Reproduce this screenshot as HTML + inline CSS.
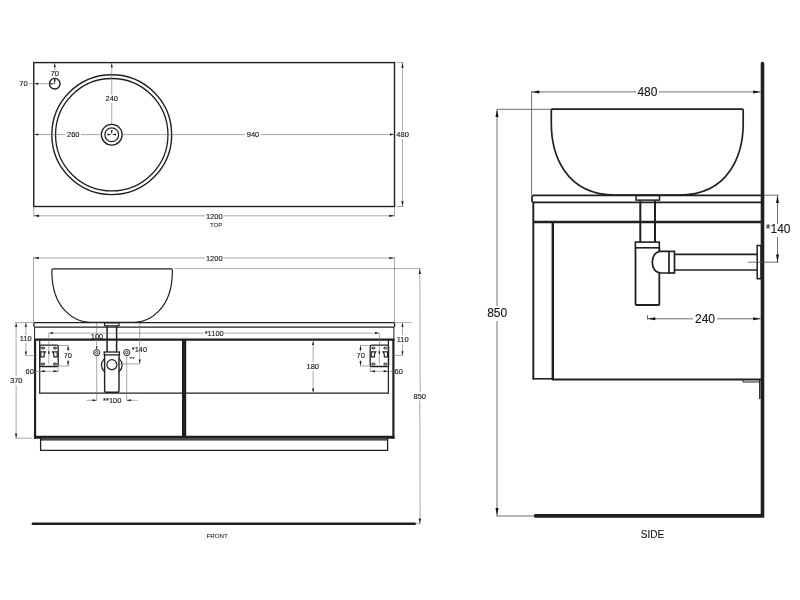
<!DOCTYPE html>
<html lang="en"><head><meta charset="utf-8"><title>Vanity unit technical drawing</title>
<style>
html,body{margin:0;padding:0;background:#fff;}
body{width:800px;height:600px;overflow:hidden;}
svg{display:block;filter:grayscale(1);font-family:"Liberation Sans",Arial,sans-serif;}
</style></head><body>
<svg width="800" height="600" viewBox="0 0 800 600">
<rect width="800" height="600" fill="#ffffff"/>
<g opacity="0.999">
<rect x="33.75" y="62.6" width="360.75" height="143.9" rx="0" fill="none" stroke="#231f20" stroke-width="1.4"/>
<circle cx="111.75" cy="134.7" r="59.9" fill="none" stroke="#231f20" stroke-width="1.4"/>
<circle cx="111.75" cy="134.7" r="56.2" fill="none" stroke="#231f20" stroke-width="1.3"/>
<circle cx="111.75" cy="134.7" r="10.4" fill="none" stroke="#231f20" stroke-width="1.3"/>
<circle cx="111.75" cy="134.7" r="6.9" fill="none" stroke="#231f20" stroke-width="1.2"/>
<circle cx="54.75" cy="83.7" r="5.3" fill="none" stroke="#231f20" stroke-width="1.4"/>
<line x1="54.75" y1="63" x2="54.75" y2="72.5" stroke="#707070" stroke-width="0.6" />
<line x1="54.75" y1="77" x2="54.75" y2="84" stroke="#707070" stroke-width="0.6" />
<polygon points="54.75,63.20 53.75,67.20 55.75,67.20" fill="#111"/>
<polygon points="54.75,83.70 53.85,79.20 55.65,79.20" fill="#111"/>
<polygon points="54.75,83.70 50.25,82.80 50.25,84.60" fill="#111"/>
<text x="54.75" y="75.7" font-size="7.5" text-anchor="middle" fill="#151515" stroke="#151515" stroke-width="0.12">70</text>
<line x1="28.75" y1="83.7" x2="54.75" y2="83.7" stroke="#707070" stroke-width="0.6" />
<polygon points="34.30,83.70 38.30,82.70 38.30,84.70" fill="#111"/>
<text x="27.6" y="86.2" font-size="7.5" text-anchor="end" fill="#151515" stroke="#151515" stroke-width="0.12">70</text>
<line x1="111.75" y1="63" x2="111.75" y2="95" stroke="#707070" stroke-width="0.6" />
<line x1="111.75" y1="103" x2="111.75" y2="124" stroke="#707070" stroke-width="0.6" />
<polygon points="111.75,63.20 110.75,67.20 112.75,67.20" fill="#111"/>
<polygon points="111.75,134.30 110.75,130.30 112.75,130.30" fill="#111"/>
<text x="111.75" y="101.3" font-size="7.5" text-anchor="middle" fill="#151515" stroke="#151515" stroke-width="0.12">240</text>
<line x1="34" y1="134.6" x2="65.5" y2="134.6" stroke="#707070" stroke-width="0.6" />
<line x1="81" y1="134.6" x2="101" y2="134.6" stroke="#707070" stroke-width="0.6" />
<line x1="122.5" y1="134.6" x2="245" y2="134.6" stroke="#707070" stroke-width="0.6" />
<line x1="261" y1="134.6" x2="394" y2="134.6" stroke="#707070" stroke-width="0.6" />
<polygon points="34.30,134.60 38.30,133.60 38.30,135.60" fill="#111"/>
<polygon points="111.50,134.60 107.50,133.60 107.50,135.60" fill="#111"/>
<polygon points="112.00,134.60 116.00,133.60 116.00,135.60" fill="#111"/>
<polygon points="394.00,134.60 390.00,133.60 390.00,135.60" fill="#111"/>
<text x="73.25" y="137.4" font-size="7.5" text-anchor="middle" fill="#151515" stroke="#151515" stroke-width="0.12">260</text>
<text x="253" y="137.4" font-size="7.5" text-anchor="middle" fill="#151515" stroke="#151515" stroke-width="0.12">940</text>
<line x1="396.5" y1="62.6" x2="403.5" y2="62.6" stroke="#707070" stroke-width="0.6" />
<line x1="396.5" y1="206.5" x2="403.5" y2="206.5" stroke="#707070" stroke-width="0.6" />
<line x1="402.5" y1="62.6" x2="402.5" y2="131" stroke="#707070" stroke-width="0.6" />
<line x1="402.5" y1="139" x2="402.5" y2="206.5" stroke="#707070" stroke-width="0.6" />
<polygon points="402.50,62.80 401.40,67.80 403.60,67.80" fill="#111"/>
<polygon points="402.50,206.30 401.40,201.30 403.60,201.30" fill="#111"/>
<text x="402.6" y="137.3" font-size="7.5" text-anchor="middle" fill="#151515" stroke="#151515" stroke-width="0.12">480</text>
<line x1="33.75" y1="207" x2="33.75" y2="216.7" stroke="#707070" stroke-width="0.6" />
<line x1="394.5" y1="207" x2="394.5" y2="216.7" stroke="#707070" stroke-width="0.6" />
<line x1="33.75" y1="215.8" x2="205" y2="215.8" stroke="#707070" stroke-width="0.6" />
<line x1="223.5" y1="215.8" x2="394.5" y2="215.8" stroke="#707070" stroke-width="0.6" />
<polygon points="34.00,215.80 39.00,214.70 39.00,216.90" fill="#111"/>
<polygon points="394.30,215.80 389.30,214.70 389.30,216.90" fill="#111"/>
<text x="214.3" y="218.5" font-size="7.5" text-anchor="middle" fill="#151515" stroke="#151515" stroke-width="0.12">1200</text>
<text x="216.2" y="227.3" font-size="6.1" text-anchor="middle" fill="#151515" stroke="#151515" stroke-width="0.05">TOP</text>
<line x1="33.5" y1="257" x2="33.5" y2="322" stroke="#707070" stroke-width="0.6" />
<line x1="394.5" y1="257" x2="394.5" y2="322" stroke="#707070" stroke-width="0.6" />
<line x1="33.5" y1="258" x2="205" y2="258" stroke="#707070" stroke-width="0.6" />
<line x1="223.5" y1="258" x2="394.5" y2="258" stroke="#707070" stroke-width="0.6" />
<polygon points="33.80,258.00 38.80,256.90 38.80,259.10" fill="#111"/>
<polygon points="394.30,258.00 389.30,256.90 389.30,259.10" fill="#111"/>
<text x="214.3" y="260.5" font-size="7.5" text-anchor="middle" fill="#151515" stroke="#151515" stroke-width="0.12">1200</text>
<line x1="174.5" y1="268.6" x2="421" y2="268.6" stroke="#707070" stroke-width="0.6" />
<path d="M53,268.9 H171.2 Q172.3,268.9 172.3,270 V272 C172.3,309.9 148.2,322.3 134.2,322.3 H90 C76,322.3 51.9,309.9 51.9,272 V270 Q51.9,268.9 53,268.9 Z" fill="none" stroke="#231f20" stroke-width="1.2" />
<rect x="33.9" y="322.6" width="360.7" height="4.6" rx="1.5" fill="none" stroke="#231f20" stroke-width="1.3"/>
<path d="M34.6,327.2 V340" fill="none" stroke="#231f20" stroke-width="1.0" />
<path d="M393.9,327.2 V340" fill="none" stroke="#231f20" stroke-width="1.0" />
<rect x="104.5" y="322.8" width="14.5" height="3" rx="0" fill="none" stroke="#231f20" stroke-width="1.2"/>
<line x1="34" y1="339.6" x2="394.4" y2="339.6" stroke="#231f20" stroke-width="2.1" />
<line x1="35.05" y1="339.2" x2="35.05" y2="438.7" stroke="#231f20" stroke-width="2.2" />
<line x1="393.4" y1="339.2" x2="393.4" y2="438.7" stroke="#231f20" stroke-width="2.2" />
<line x1="34" y1="437.25" x2="394.5" y2="437.25" stroke="#231f20" stroke-width="3" />
<rect x="40.3" y="438.7" width="347.5" height="1.9" fill="#4a4646"/>
<line x1="184.1" y1="340" x2="184.1" y2="438" stroke="#231f20" stroke-width="4.2" />
<line x1="39.7" y1="340" x2="39.7" y2="393.2" stroke="#231f20" stroke-width="1.2" />
<line x1="388.4" y1="340" x2="388.4" y2="393.2" stroke="#231f20" stroke-width="1.2" />
<line x1="39.2" y1="393.1" x2="388.9" y2="393.1" stroke="#231f20" stroke-width="1.4" />
<path d="M40.6,438 V450.3 H387.6 V438" fill="none" stroke="#231f20" stroke-width="1.3" />
<line x1="107.1" y1="326" x2="107.1" y2="352" stroke="#231f20" stroke-width="1.5" />
<line x1="116.6" y1="326" x2="116.6" y2="352" stroke="#231f20" stroke-width="1.5" />
<rect x="104.2" y="352" width="15.2" height="2.9" rx="0" fill="none" stroke="#231f20" stroke-width="1.3"/>
<path d="M104.6,354.9 V390.8 Q104.6,392.3 106.1,392.3 H117.5 Q119,392.3 119,390.8 V354.9" fill="none" stroke="#231f20" stroke-width="1.4" />
<path d="M104.6,358.3 Q98.2,365 104.6,371.8" fill="none" stroke="#231f20" stroke-width="1.2" />
<path d="M119,358.3 Q125.4,365 119,371.8" fill="none" stroke="#231f20" stroke-width="1.2" />
<circle cx="111.9" cy="364.7" r="5.0" fill="none" stroke="#231f20" stroke-width="1.2"/>
<circle cx="96.7" cy="352.6" r="3.1" fill="none" stroke="#231f20" stroke-width="1.0"/>
<circle cx="96.7" cy="352.6" r="1.15" fill="none" stroke="#231f20" stroke-width="0.8"/>
<line x1="93.7" y1="352.6" x2="95.2" y2="352.6" stroke="#707070" stroke-width="0.5" />
<line x1="98.2" y1="352.6" x2="99.7" y2="352.6" stroke="#707070" stroke-width="0.5" />
<line x1="96.7" y1="349.6" x2="96.7" y2="351.1" stroke="#707070" stroke-width="0.5" />
<line x1="96.7" y1="354.1" x2="96.7" y2="355.6" stroke="#707070" stroke-width="0.5" />
<circle cx="126.7" cy="352.6" r="3.1" fill="none" stroke="#231f20" stroke-width="1.0"/>
<circle cx="126.7" cy="352.6" r="1.15" fill="none" stroke="#231f20" stroke-width="0.8"/>
<line x1="123.7" y1="352.6" x2="125.2" y2="352.6" stroke="#707070" stroke-width="0.5" />
<line x1="128.2" y1="352.6" x2="129.7" y2="352.6" stroke="#707070" stroke-width="0.5" />
<line x1="126.7" y1="349.6" x2="126.7" y2="351.1" stroke="#707070" stroke-width="0.5" />
<line x1="126.7" y1="354.1" x2="126.7" y2="355.6" stroke="#707070" stroke-width="0.5" />
<line x1="96.7" y1="323" x2="96.7" y2="349.9" stroke="#707070" stroke-width="0.6" />
<line x1="96.7" y1="355.7" x2="96.7" y2="400.5" stroke="#707070" stroke-width="0.6" />
<line x1="126.7" y1="355.7" x2="126.7" y2="400.5" stroke="#707070" stroke-width="0.6" />
<line x1="139.7" y1="323" x2="139.7" y2="363.8" stroke="#707070" stroke-width="0.6" />
<line x1="114.5" y1="363.9" x2="140" y2="363.9" stroke="#707070" stroke-width="0.6" />
<polygon points="139.70,363.60 138.70,359.60 140.70,359.60" fill="#111"/>
<polygon points="96.70,349.60 95.90,346.60 97.50,346.60" fill="#111"/>
<text x="97" y="338.5" font-size="7.5" text-anchor="middle" fill="#151515" stroke="#151515" stroke-width="0.12">100</text>
<text x="139.5" y="351.5" font-size="7.5" text-anchor="middle" fill="#151515" stroke="#151515" stroke-width="0.12">*140</text>
<text x="132.2" y="361" font-size="6" text-anchor="middle" fill="#151515" stroke="#151515" stroke-width="0.05">**</text>
<line x1="86.5" y1="400.3" x2="96.7" y2="400.3" stroke="#707070" stroke-width="0.6" />
<line x1="126.7" y1="400.3" x2="137.5" y2="400.3" stroke="#707070" stroke-width="0.6" />
<polygon points="96.50,400.30 92.50,399.30 92.50,401.30" fill="#111"/>
<polygon points="126.90,400.30 130.90,399.30 130.90,401.30" fill="#111"/>
<text x="112.3" y="402.6" font-size="7.5" text-anchor="middle" fill="#151515" stroke="#151515" stroke-width="0.12">**100</text>
<rect x="39.8" y="345.1" width="18.4" height="21.4" rx="1.6" fill="none" stroke="#231f20" stroke-width="1.3"/>
<ellipse cx="43.0" cy="348.1" rx="1.8" ry="0.9" fill="none" stroke="#231f20" stroke-width="1"/>
<ellipse cx="43.0" cy="364" rx="1.8" ry="0.9" fill="none" stroke="#231f20" stroke-width="1"/>
<ellipse cx="55.0" cy="348.1" rx="1.8" ry="0.9" fill="none" stroke="#231f20" stroke-width="1"/>
<ellipse cx="55.0" cy="364" rx="1.8" ry="0.9" fill="none" stroke="#231f20" stroke-width="1"/>
<path d="M40.8,351.8 H45.4 L44.099999999999994,354.2 V356.8 H40.8 Z M57.199999999999996,351.8 H52.599999999999994 L53.9,354.2 V356.8 H57.199999999999996 Z" fill="none" stroke="#231f20" stroke-width="1.15" />
<rect x="370.2" y="345.1" width="18.4" height="21.4" rx="1.6" fill="none" stroke="#231f20" stroke-width="1.3"/>
<ellipse cx="373.4" cy="348.1" rx="1.8" ry="0.9" fill="none" stroke="#231f20" stroke-width="1"/>
<ellipse cx="373.4" cy="364" rx="1.8" ry="0.9" fill="none" stroke="#231f20" stroke-width="1"/>
<ellipse cx="385.4" cy="348.1" rx="1.8" ry="0.9" fill="none" stroke="#231f20" stroke-width="1"/>
<ellipse cx="385.4" cy="364" rx="1.8" ry="0.9" fill="none" stroke="#231f20" stroke-width="1"/>
<path d="M371.2,351.8 H375.8 L374.5,354.2 V356.8 H371.2 Z M387.59999999999997,351.8 H383.0 L384.3,354.2 V356.8 H387.59999999999997 Z" fill="none" stroke="#231f20" stroke-width="1.15" />
<line x1="48.8" y1="333.1" x2="204" y2="333.1" stroke="#707070" stroke-width="0.6" />
<line x1="224.5" y1="333.1" x2="379.3" y2="333.1" stroke="#707070" stroke-width="0.6" />
<polygon points="49.00,333.10 53.00,332.10 53.00,334.10" fill="#111"/>
<polygon points="379.00,333.10 375.00,332.10 375.00,334.10" fill="#111"/>
<line x1="48.8" y1="333.1" x2="48.8" y2="363.8" stroke="#707070" stroke-width="0.6" />
<line x1="379.3" y1="333.1" x2="379.3" y2="363.8" stroke="#707070" stroke-width="0.6" />
<rect x="48.1" y="351.2" width="1.4" height="2.6" fill="#231f20"/>
<rect x="378.6" y="351.2" width="1.4" height="2.6" fill="#231f20"/>
<text x="214.2" y="335.7" font-size="7.5" text-anchor="middle" fill="#151515" stroke="#151515" stroke-width="0.12">*1100</text>
<line x1="15" y1="322.6" x2="34" y2="322.6" stroke="#707070" stroke-width="0.6" />
<line x1="25.9" y1="322.6" x2="25.9" y2="335" stroke="#707070" stroke-width="0.6" />
<line x1="25.9" y1="343" x2="25.9" y2="355.6" stroke="#707070" stroke-width="0.6" />
<line x1="25.9" y1="355.6" x2="37" y2="355.6" stroke="#707070" stroke-width="0.6" />
<polygon points="25.90,322.90 24.90,326.90 26.90,326.90" fill="#111"/>
<polygon points="25.90,355.40 24.90,351.40 26.90,351.40" fill="#111"/>
<text x="25.7" y="341.3" font-size="7.5" text-anchor="middle" fill="#151515" stroke="#151515" stroke-width="0.12">110</text>
<line x1="16.1" y1="322.6" x2="16.1" y2="376.5" stroke="#707070" stroke-width="0.6" />
<line x1="16.1" y1="385" x2="16.1" y2="438.2" stroke="#707070" stroke-width="0.6" />
<line x1="15.3" y1="438.2" x2="32" y2="438.2" stroke="#707070" stroke-width="0.6" />
<polygon points="16.10,322.90 15.10,326.90 17.10,326.90" fill="#111"/>
<polygon points="16.10,438.00 15.10,433.50 17.10,433.50" fill="#111"/>
<text x="16.3" y="383.1" font-size="7.5" text-anchor="middle" fill="#151515" stroke="#151515" stroke-width="0.12">370</text>
<line x1="58.6" y1="345.4" x2="68.6" y2="345.4" stroke="#707070" stroke-width="0.6" />
<line x1="58.6" y1="366" x2="68.6" y2="366" stroke="#707070" stroke-width="0.6" />
<line x1="68.1" y1="345.4" x2="68.1" y2="351.5" stroke="#707070" stroke-width="0.6" />
<line x1="68.1" y1="360" x2="68.1" y2="366" stroke="#707070" stroke-width="0.6" />
<polygon points="68.10,345.60 67.10,350.10 69.10,350.10" fill="#111"/>
<polygon points="68.10,365.80 67.10,361.30 69.10,361.30" fill="#111"/>
<text x="67.8" y="358.2" font-size="7.5" text-anchor="middle" fill="#151515" stroke="#151515" stroke-width="0.12">70</text>
<line x1="58.2" y1="366.5" x2="58.2" y2="371.8" stroke="#707070" stroke-width="0.6" />
<line x1="34" y1="371.3" x2="58.2" y2="371.3" stroke="#707070" stroke-width="0.6" />
<polygon points="40.30,371.30 44.80,370.30 44.80,372.30" fill="#111"/>
<polygon points="58.00,371.30 53.50,370.30 53.50,372.30" fill="#111"/>
<text x="29.7" y="373.8" font-size="7.5" text-anchor="middle" fill="#151515" stroke="#151515" stroke-width="0.12">60</text>
<line x1="360" y1="345.4" x2="370" y2="345.4" stroke="#707070" stroke-width="0.6" />
<line x1="360" y1="366" x2="370" y2="366" stroke="#707070" stroke-width="0.6" />
<line x1="360.5" y1="345.4" x2="360.5" y2="351.5" stroke="#707070" stroke-width="0.6" />
<line x1="360.5" y1="360" x2="360.5" y2="366" stroke="#707070" stroke-width="0.6" />
<polygon points="360.50,345.60 359.50,350.10 361.50,350.10" fill="#111"/>
<polygon points="360.50,365.80 359.50,361.30 361.50,361.30" fill="#111"/>
<text x="360.7" y="358.2" font-size="7.5" text-anchor="middle" fill="#151515" stroke="#151515" stroke-width="0.12">70</text>
<line x1="370.3" y1="366.5" x2="370.3" y2="371.8" stroke="#707070" stroke-width="0.6" />
<line x1="370.3" y1="371.3" x2="394.5" y2="371.3" stroke="#707070" stroke-width="0.6" />
<polygon points="370.50,371.30 375.00,370.30 375.00,372.30" fill="#111"/>
<polygon points="388.20,371.30 383.70,370.30 383.70,372.30" fill="#111"/>
<text x="398.7" y="373.9" font-size="7.5" text-anchor="middle" fill="#151515" stroke="#151515" stroke-width="0.12">60</text>
<line x1="394.5" y1="322.6" x2="411.6" y2="322.6" stroke="#707070" stroke-width="0.6" />
<line x1="402.5" y1="322.6" x2="402.5" y2="335" stroke="#707070" stroke-width="0.6" />
<line x1="402.5" y1="343.5" x2="402.5" y2="355.5" stroke="#707070" stroke-width="0.6" />
<line x1="391.5" y1="355.5" x2="402.8" y2="355.5" stroke="#707070" stroke-width="0.6" />
<polygon points="402.50,322.90 401.50,326.90 403.50,326.90" fill="#111"/>
<polygon points="402.50,355.30 401.50,351.30 403.50,351.30" fill="#111"/>
<text x="402.7" y="341.8" font-size="7.5" text-anchor="middle" fill="#151515" stroke="#151515" stroke-width="0.12">110</text>
<line x1="313.1" y1="340.8" x2="313.1" y2="362.5" stroke="#707070" stroke-width="0.6" />
<line x1="313.1" y1="370.5" x2="313.1" y2="392.7" stroke="#707070" stroke-width="0.6" />
<polygon points="313.10,341.00 312.10,345.00 314.10,345.00" fill="#111"/>
<polygon points="313.10,392.60 312.10,388.60 314.10,388.60" fill="#111"/>
<text x="312.8" y="368.6" font-size="7.5" text-anchor="middle" fill="#151515" stroke="#151515" stroke-width="0.12">180</text>
<line x1="419.8" y1="268.6" x2="420.2" y2="392" stroke="#707070" stroke-width="0.6" />
<line x1="419.8" y1="400.5" x2="420.2" y2="523.7" stroke="#707070" stroke-width="0.6" />
<line x1="415" y1="523.7" x2="420.8" y2="523.7" stroke="#707070" stroke-width="0.6" />
<polygon points="419.80,268.90 418.70,273.90 420.90,273.90" fill="#111"/>
<polygon points="419.80,523.50 418.70,518.50 420.90,518.50" fill="#111"/>
<text x="419.8" y="398.7" font-size="7.5" text-anchor="middle" fill="#151515" stroke="#151515" stroke-width="0.12">850</text>
<line x1="32.8" y1="523.7" x2="414.8" y2="523.7" stroke="#231f20" stroke-width="2.4" stroke-linecap="round"/>
<text x="217.2" y="537.6" font-size="6.2" text-anchor="middle" fill="#151515" stroke="#151515" stroke-width="0.05">FRONT</text>
<path d="M762.5,63.5 V515.9 H535.5" fill="none" stroke="#231f20" stroke-width="3.6" stroke-linecap="round" stroke-linejoin="miter"/>
<line x1="531.6" y1="91" x2="531.6" y2="195" stroke="#4a4a4a" stroke-width="0.8" />
<line x1="531.6" y1="91.9" x2="636" y2="91.9" stroke="#4a4a4a" stroke-width="0.8" />
<line x1="659" y1="91.9" x2="760.5" y2="91.9" stroke="#4a4a4a" stroke-width="0.8" />
<polygon points="531.90,91.90 539.40,90.40 539.40,93.40" fill="#111"/>
<polygon points="760.70,91.90 753.20,90.40 753.20,93.40" fill="#111"/>
<text x="647.4" y="95.9" font-size="12" text-anchor="middle" fill="#151515" stroke="#151515" stroke-width="0.12">480</text>
<line x1="497" y1="109.3" x2="551" y2="109.3" stroke="#4a4a4a" stroke-width="0.8" />
<line x1="497" y1="109.3" x2="497" y2="306" stroke="#4a4a4a" stroke-width="0.8" />
<line x1="497" y1="321" x2="497" y2="516" stroke="#4a4a4a" stroke-width="0.8" />
<line x1="496.5" y1="516" x2="534" y2="516" stroke="#4a4a4a" stroke-width="0.8" />
<polygon points="497.00,109.60 495.50,117.10 498.50,117.10" fill="#111"/>
<polygon points="497.00,515.60 495.50,508.10 498.50,508.10" fill="#111"/>
<text x="497.2" y="317" font-size="12" text-anchor="middle" fill="#151515" stroke="#151515" stroke-width="0.12">850</text>
<path d="M552.5,109.2 H742 Q743.2,109.2 743.2,110.4 V123.5 C743.2,153.3 730,195 679,195 H615.5 C564.5,195 551.3,153.3 551.3,123.5 V110.4 Q551.3,109.2 552.5,109.2 Z" fill="none" stroke="#231f20" stroke-width="1.7" />
<path d="M761,195.4 H533.5 Q532,195.4 532,197 V200.8 Q532,202.4 533.5,202.4 H761" fill="none" stroke="#231f20" stroke-width="1.7" />
<rect x="636" y="195.4" width="23.5" height="4.7" rx="0" fill="none" stroke="#231f20" stroke-width="1.5"/>
<line x1="533.3" y1="202.4" x2="533.3" y2="379.3" stroke="#231f20" stroke-width="1.9" />
<line x1="533.3" y1="222" x2="761" y2="222" stroke="#231f20" stroke-width="2.6" />
<line x1="552.8" y1="222" x2="552.8" y2="380" stroke="#231f20" stroke-width="2.4" />
<line x1="532.4" y1="378.8" x2="553" y2="378.8" stroke="#231f20" stroke-width="1.6" />
<line x1="552" y1="379.6" x2="761" y2="379.6" stroke="#231f20" stroke-width="2.0" />
<path d="M743,380 V382 H759.8" fill="none" stroke="#231f20" stroke-width="1.0" />
<line x1="759.8" y1="380" x2="759.8" y2="399" stroke="#231f20" stroke-width="1.4" />
<line x1="640.3" y1="200.5" x2="640.3" y2="242" stroke="#231f20" stroke-width="2.0" />
<line x1="655" y1="200.5" x2="655" y2="242" stroke="#231f20" stroke-width="2.0" />
<rect x="635.4" y="242.1" width="23.9" height="5.7" rx="0" fill="none" stroke="#231f20" stroke-width="1.6"/>
<path d="M635.5,247.8 V304 Q635.5,305 636.5,305 H658.3 Q659.3,305 659.3,304 V273" fill="none" stroke="#231f20" stroke-width="1.8" />
<line x1="659.3" y1="247.8" x2="659.3" y2="251.5" stroke="#231f20" stroke-width="1.8" />
<path d="M669,251.4 H661 C655,251.4 652.3,257 652.3,262.2 C652.3,267.5 655,273 661,273 H669" fill="none" stroke="#231f20" stroke-width="1.7" />
<rect x="669" y="251.4" width="5.5" height="21.6" rx="0" fill="none" stroke="#231f20" stroke-width="1.7"/>
<line x1="674.5" y1="254.3" x2="757" y2="254.3" stroke="#231f20" stroke-width="1.7" />
<line x1="674.5" y1="270" x2="757" y2="270" stroke="#231f20" stroke-width="1.7" />
<rect x="757.2" y="245.5" width="3.8" height="33.2" rx="0" fill="none" stroke="#231f20" stroke-width="1.5"/>
<line x1="764" y1="195.2" x2="778.5" y2="195.2" stroke="#4a4a4a" stroke-width="0.8" />
<line x1="748" y1="262.2" x2="778.5" y2="262.2" stroke="#4a4a4a" stroke-width="0.8" />
<line x1="777.5" y1="195.2" x2="777.5" y2="224" stroke="#4a4a4a" stroke-width="0.8" />
<line x1="777.5" y1="237" x2="777.5" y2="262.2" stroke="#4a4a4a" stroke-width="0.8" />
<polygon points="777.50,195.50 776.00,203.00 779.00,203.00" fill="#111"/>
<polygon points="777.50,262.00 776.00,254.50 779.00,254.50" fill="#111"/>
<text x="778.2" y="232.8" font-size="12" text-anchor="middle" fill="#151515" stroke="#151515" stroke-width="0.12">*140</text>
<line x1="647.5" y1="315" x2="647.5" y2="319.5" stroke="#4a4a4a" stroke-width="0.8" />
<line x1="647.5" y1="318.8" x2="693" y2="318.8" stroke="#4a4a4a" stroke-width="0.8" />
<line x1="717" y1="318.8" x2="760.5" y2="318.8" stroke="#4a4a4a" stroke-width="0.8" />
<polygon points="647.80,318.80 655.30,317.30 655.30,320.30" fill="#111"/>
<polygon points="760.70,318.80 753.20,317.30 753.20,320.30" fill="#111"/>
<text x="705" y="323.2" font-size="12" text-anchor="middle" fill="#151515" stroke="#151515" stroke-width="0.12">240</text>
<text x="652.5" y="537.9" font-size="10" text-anchor="middle" fill="#151515" stroke="#151515" stroke-width="0.12">SIDE</text>
</g>
</svg>
</body></html>
